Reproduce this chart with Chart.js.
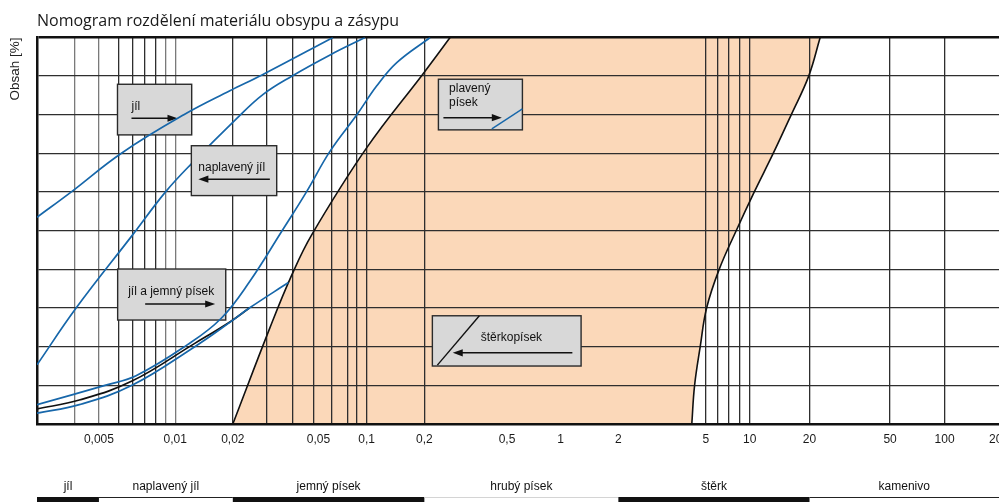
<!DOCTYPE html>
<html>
<head>
<meta charset="utf-8">
<script src="https://cdn.jsdelivr.net/npm/chart.js@4.4.1/dist/chart.umd.min.js"></script>
<style>
  html, body { margin: 0; padding: 0; background: #fff; }
  #wrap { width: 999px; height: 502px; position: relative; }
</style>
</head>
<body>
<div id="wrap"><canvas id="nomogram"></canvas></div>
<script>
// x = zrnitost [mm] (log), y = obsah [%]
const tickValues = [0.004, 0.01, 0.02, 0.056, 0.1, 0.2, 0.54, 1.03, 2.06, 5.9, 10, 20.5, 54, 104, 200];
const tickLabels = ['0,005', '0,01', '0,02', '0,05', '0,1', '0,2', '0,5', '1', '2', '5', '10', '20', '50', '100', '200'];
const gridValues = [0.003, 0.004, 0.0051, 0.006, 0.0069, 0.0079, 0.0089, 0.01, 0.02, 0.03, 0.041, 0.053, 0.066, 0.08, 0.089, 0.1, 0.2, 5.9, 6.8, 7.8, 8.9, 10, 20.5, 54, 104];
const lightGrid = [0.003, 0.004, 0.0089, 0.01];

// krivky
const jilX = [0.0019, 0.00286, 0.00522, 0.0111, 0.0193, 0.0284, 0.0667];
const jilY = [53.5, 60, 70, 80, 86.2, 90.3, 100];
const naplavenyX = [0.0019, 0.00304, 0.00601, 0.00889, 0.01225, 0.0208, 0.0288, 0.0406, 0.0644, 0.098];
const naplavenyY = [15.3, 30, 49, 60, 67.5, 78.9, 85.3, 90, 95.5, 100];
const plavenyX = [0.0019, 0.0043, 0.00625, 0.0115, 0.01736, 0.0246, 0.03616, 0.0484, 0.0644, 0.0888, 0.1129, 0.1435, 0.2143];
const plavenyY = [5.0, 10, 12.5, 20.4, 27.3, 37, 50, 60, 70.6, 80, 87.5, 93.5, 100];
const jemnyX = [0.0019, 0.00316, 0.00595, 0.01266, 0.0193, 0.0244, 0.039];
const jemnyY = [2.8, 5, 10, 20, 26.3, 30, 36.6];
const cernaX = [0.0019, 0.00316, 0.00595, 0.0126, 0.0193, 0.0244];
const cernaY = [3.9, 6.2, 11.1, 20.8, 26.4, 30];

// hranice oblasti štěrkopísku
const levaX = [0.02, 0.0313, 0.0406, 0.0517, 0.1001, 0.1976, 0.2725];
const levaY = [0, 25, 38.5, 49, 71.5, 90.7, 100];
const pravaX = [4.98, 5.15, 5.51, 5.95, 6.92, 8.49, 10.54, 13.25, 16.45, 20.3, 23.3];
const pravaY = [0, 10, 20, 30, 40, 50, 60, 70, 80, 90, 100];

// pásma pod grafem
const pasma = ['jíl', 'naplavený jíl', 'jemný písek', 'hrubý písek', 'štěrk', 'kamenivo'];
const pasmaHranice = [0.0019, 0.004, 0.02, 0.2, 2.06, 20.5, 200];

const modra = '#1767aa';
const font = '"Liberation Sans", Arial, sans-serif';
const napeti = 0.4;
const body = (xs, ys) => xs.map((x, i) => ({ x: x, y: ys[i] }));

// uzavřený obrys oblasti (rohy zdvojené, aby se oblouk nelámal)
const leva = body(levaX, levaY);
const prava = body(pravaX, pravaY).reverse();
const oblast = [...leva, leva[leva.length - 1], prava[0], ...prava];

const allTicks = [...new Set([...gridValues, ...tickValues])].sort((a, b) => a - b);

// rámečky s popisky, polohy v souřadnicích grafu
const ramecky = [
  { pod: true, x1: 0.005, x2: 0.0122, yT: 87.9, yB: 74.8,
    texty: [['jíl', 14, 26]], sipky: [[14, 60, 34]], cary: [] },
  { pod: true, x1: 0.00501, x2: 0.01837, yT: 40.1, yB: 26.9,
    texty: [['jíl a jemný písek', 10.5, 26]], sipky: [[27.5, 97.5, 35]], cary: [] },
  { pod: false, x1: 0.01215, x2: 0.0339, yT: 72.0, yB: 59.1,
    texty: [['naplavený jíl', 7, 25.5]], sipky: [[78.5, 7, 33.5]], cary: [] },
  { pod: false, x1: 0.2368, x2: 0.65, yT: 89.2, yB: 76.1,
    texty: [['plavený', 10.7, 13], ['písek', 10.7, 26.5]], sipky: [[5, 63.4, 38.4]],
    cary: [[53.4, 49.7, 84, 29.7, modra]] },
  { pod: false, x1: 0.2202, x2: 1.316, yT: 28.0, yB: 15.0,
    texty: [['štěrkopísek', 48.4, 25.3]], sipky: [[140, 20.4, 37]],
    cary: [[5, 49.3, 47, 0, '#111']] }
];

function sipka(ctx, xa, xb, y) {
  const dir = xb > xa ? 1 : -1;
  ctx.beginPath();
  ctx.moveTo(xa, y);
  ctx.lineTo(xb - dir * 8, y);
  ctx.stroke();
  ctx.beginPath();
  ctx.moveTo(xb, y);
  ctx.lineTo(xb - dir * 10, y - 3.6);
  ctx.lineTo(xb - dir * 10, y + 3.6);
  ctx.closePath();
  ctx.fill();
}

function kresliRamecek(chart, r) {
  const { ctx } = chart;
  const sx = chart.scales.x, sy = chart.scales.y;
  const l = sx.getPixelForValue(r.x1), p = sx.getPixelForValue(r.x2);
  const t = sy.getPixelForValue(r.yT), b = sy.getPixelForValue(r.yB);
  ctx.save();
  ctx.fillStyle = '#d8d8d8';
  ctx.fillRect(l, t, p - l, b - t);
  ctx.strokeStyle = '#2a2a2a';
  ctx.lineWidth = 1.4;
  ctx.strokeRect(l, t, p - l, b - t);
  r.cary.forEach(c => {
    ctx.strokeStyle = c[4];
    ctx.lineWidth = 1.4;
    ctx.beginPath();
    ctx.moveTo(l + c[0], t + c[1]);
    ctx.lineTo(l + c[2], t + c[3]);
    ctx.stroke();
  });
  ctx.fillStyle = '#111';
  ctx.font = '12px ' + font;
  ctx.textBaseline = 'alphabetic';
  ctx.textAlign = 'left';
  r.texty.forEach(tx => ctx.fillText(tx[0], l + tx[1], t + tx[2]));
  ctx.strokeStyle = '#111';
  ctx.lineWidth = 1.5;
  r.sipky.forEach(s => sipka(ctx, l + s[0], l + s[1], t + s[2]));
  ctx.restore();
}

const rameckyPlugin = {
  id: 'ramecky',
  beforeDatasetsDraw(chart) {
    ramecky.filter(r => r.pod).forEach(r => kresliRamecek(chart, r));
  },
  afterDatasetsDraw(chart) {
    ramecky.filter(r => !r.pod).forEach(r => kresliRamecek(chart, r));
  }
};

const pasmaPlugin = {
  id: 'pasma',
  afterDraw(chart) {
    const { ctx, chartArea } = chart;
    const sx = chart.scales.x;
    ctx.save();
    ctx.font = '12px ' + font;
    ctx.textAlign = 'center';
    ctx.textBaseline = 'alphabetic';
    for (let i = 0; i < pasma.length; i++) {
      const a = Math.max(chartArea.left, sx.getPixelForValue(pasmaHranice[i]));
      const b = Math.min(chartArea.right, sx.getPixelForValue(pasmaHranice[i + 1]));
      ctx.fillStyle = '#111';
      ctx.fillText(pasma[i], (a + b) / 2, 490);
      if (i % 2 === 0) {
        ctx.fillRect(a, 497, b - a, 6);
      } else {
        ctx.fillStyle = i === 3 ? '#d4d4d4' : '#222';
        ctx.fillRect(a, 497, b - a, 1);
      }
    }
    ctx.restore();
  }
};

const krivka = (label, xs, ys, color, w) => ({
  label: label, data: body(xs, ys), borderColor: color, borderWidth: w,
  pointRadius: 0, fill: false, tension: napeti
});

new Chart(document.getElementById('nomogram'), {
  type: 'line',
  data: {
    datasets: [
      krivka('jíl', jilX, jilY, modra, 1.7),
      krivka('naplavený jíl', naplavenyX, naplavenyY, modra, 1.7),
      krivka('plavený písek', plavenyX, plavenyY, modra, 1.7),
      krivka('jíl a jemný písek', jemnyX, jemnyY, modra, 1.7),
      krivka('jíl a jemný písek (hranice)', cernaX, cernaY, '#111', 1.7),
      krivka('štěrkopísek levá', levaX, levaY, '#111', 1.6),
      krivka('štěrkopísek pravá', pravaX, pravaY, '#111', 1.6),
      {
        label: 'oblast', data: oblast, pointRadius: 0, tension: napeti,
        fill: 'shape', backgroundColor: '#fbd8b9', borderColor: 'rgba(0,0,0,0)', borderWidth: 1
      }
    ]
  },
  options: {
    responsive: true,
    maintainAspectRatio: false,
    animation: false,
    layout: { padding: 0 },
    plugins: {
      legend: { display: false },
      tooltip: { enabled: false },
      filler: { drawTime: 'beforeDraw' },
      title: {
        display: true,
        fullSize: false,
        align: 'start',
        text: 'Nomogram rozdělení materiálu obsypu a zásypu',
        color: '#1a1a1a',
        font: { family: '"Open Sans", sans-serif', size: 16, weight: 'normal' },
        padding: { top: 12, bottom: 6.3 }
      }
    },
    scales: {
      x: {
        type: 'logarithmic',
        min: 0.0019,
        max: 200,
        afterBuildTicks: s => { s.ticks = allTicks.map(v => ({ value: v })); },
        afterFit: s => { s.height = 78; s.paddingLeft = 0; s.paddingRight = 0; },
        ticks: {
          autoSkip: false, maxRotation: 0, minRotation: 0, padding: 8,
          color: '#1a1a1a', font: { family: font, size: 12 },
          callback: v => { const i = tickValues.indexOf(v); return i < 0 ? '' : tickLabels[i]; }
        },
        grid: {
          drawTicks: false,
          lineWidth: 1.3,
          color: c => {
            const v = c.tick && c.tick.value;
            if (!gridValues.includes(v)) return 'rgba(0,0,0,0)';
            return lightGrid.includes(v) ? '#7a7a7a' : '#2e2e2e';
          }
        },
        border: { display: true, color: '#111', width: 2.5 }
      },
      y: {
        min: 0,
        max: 100,
        afterFit: s => { s.width = 37; },
        ticks: { stepSize: 10, display: false },
        grid: {
          drawTicks: false,
          lineWidth: c => (c.tick && c.tick.value === 100 ? 2.5 : 1.3),
          color: c => (c.tick && c.tick.value === 100 ? '#111' : '#2e2e2e')
        },
        border: { display: true, color: '#111', width: 2.5 },
        title: {
          display: true,
          text: 'Obsah [%]',
          align: 'end',
          color: '#222',
          font: { family: font, size: 13.5 },
          padding: { top: 7, bottom: 0 }
        }
      }
    }
  },
  plugins: [rameckyPlugin, pasmaPlugin]
});
</script>
</body>
</html>
